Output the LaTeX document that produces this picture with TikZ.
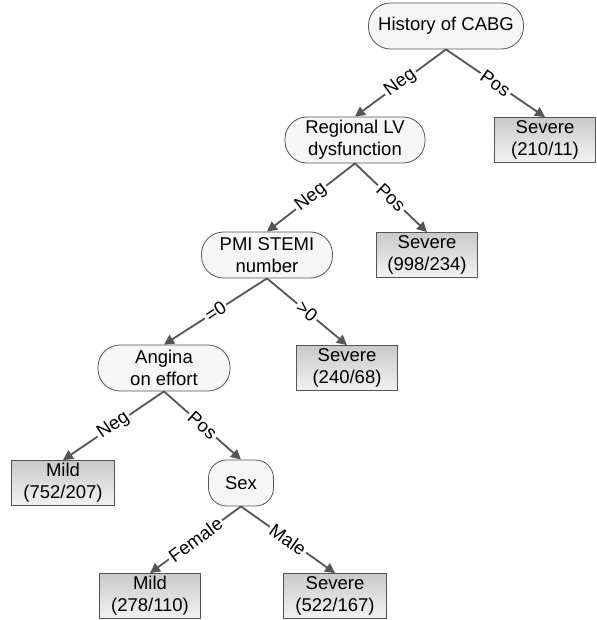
\documentclass[tikz,border=0pt]{standalone}
\usepackage{fontspec}
\setmainfont{Liberation Sans}
\usetikzlibrary{arrows.meta}

\definecolor{linegray}{HTML}{555555}
\definecolor{testfill}{HTML}{F6F6F6}

\tikzset{
  test/.style={draw=linegray, line width=0.8pt, fill=testfill, rounded corners=22pt,
    align=center, inner sep=0pt, minimum height=46pt},
  leaf/.style={draw=linegray, line width=0.8pt, top color=gray!42, bottom color=gray!10,
    align=center, inner sep=0pt, minimum width=101pt, minimum height=45pt},
  edge/.style={draw=linegray, line width=1.8pt, -{Triangle[length=10pt,width=10pt]}},
  lbl/.style={fill=white, inner sep=2pt, sloped, text=black}
}

\begin{document}
\begin{tikzpicture}[x=1pt, y=-1pt, font=\fontsize{18.5}{22}\selectfont]
\useasboundingbox (0,0) rectangle (596,620);

\node[test, minimum width=155pt] (cabg) at (446, 26) {History of CABG};
\node[leaf] (sev1) at (545, 140) {Severe\\(210/11)};
\node[test, minimum width=140pt] (lv) at (355, 140) {Regional LV\\dysfunction};
\node[leaf] (sev2) at (427, 255) {Severe\\(998/234)};
\node[test, minimum width=131pt] (pmi) at (267, 255) {PMI STEMI\\number};
\node[leaf] (sev3) at (347, 368) {Severe\\(240/68)};
\node[test, minimum width=132pt] (angina) at (164, 368) {Angina\\on effort};
\node[leaf, minimum width=103pt] (mild1) at (63, 483) {Mild\\(752/207)};
\node[test, minimum width=65pt, rounded corners=18pt] (sex) at (241, 483) {Sex};
\node[leaf] (mild2) at (150, 596) {Mild\\(278/110)};
\node[leaf, minimum width=103pt] (sev4) at (335, 596) {Severe\\(522/167)};

\draw[edge] (cabg.south) -- node[lbl] {Neg} (lv.north);
\draw[edge] (cabg.south) -- node[lbl] {Pos} (sev1.north);
\draw[edge] (lv.south) -- node[lbl] {Neg} (pmi.north);
\draw[edge] (lv.south) -- node[lbl] {Pos} (sev2.north);
\draw[edge] (pmi.south) -- node[lbl] {=0} (angina.north);
\draw[edge] (pmi.south) -- node[lbl] {>0} (sev3.north);
\draw[edge] (angina.south) -- node[lbl] {Neg} (mild1.north);
\draw[edge] (angina.south) -- node[lbl] {Pos} (sex.north);
\draw[edge] (sex.south) -- node[lbl] {Female} (mild2.north);
\draw[edge] (sex.south) -- node[lbl] {Male} (sev4.north);
\end{tikzpicture}
\end{document}
